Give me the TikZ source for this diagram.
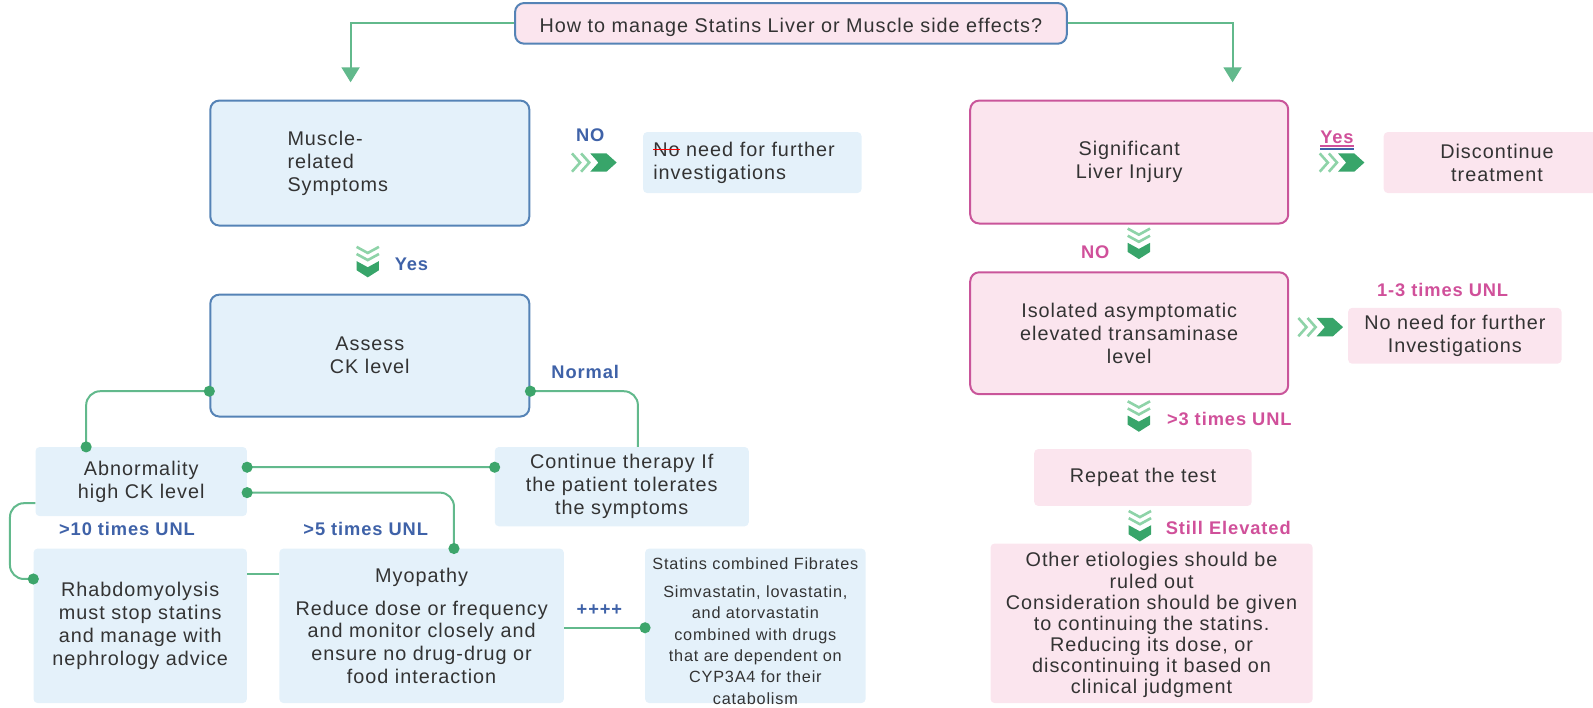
\documentclass[tikz,border=0pt]{standalone}
\usepackage{fontspec}
\setmainfont{Liberation Sans}[LetterSpace=5]
\usetikzlibrary{arrows.meta}
\tikzset{>=latex}

\definecolor{bluefill}{HTML}{E4F1FA}
\definecolor{blueline}{HTML}{5583B6}
\definecolor{pinkfill}{HTML}{FBE5EE}
\definecolor{pinkline}{HTML}{C9559A}
\definecolor{linkgreen}{HTML}{62B98C}
\definecolor{dotgreen}{HTML}{3DA56B}
\definecolor{lblblue}{HTML}{3F62A8}
\definecolor{lblpink}{HTML}{D0509A}
\definecolor{txtgray}{HTML}{333333}
\definecolor{chevlight}{HTML}{8ED3A8}
\definecolor{chevdark}{HTML}{38A56A}

\newcommand\redstrike[1]{\setbox0\hbox{#1}\copy0\llap{\color{red}\rule[0.3em]{\wd0}{1.6pt}}}

\tikzset{
  boxtext/.style={font=\fontsize{19.5}{22.5}\selectfont, text=txtgray, inner sep=0pt, align=center},
  bluebox/.style={boxtext, draw=blueline, fill=bluefill, line width=2pt, rounded corners=9pt},
  pinkbox/.style={boxtext, draw=pinkline, fill=pinkfill, line width=2pt, rounded corners=9pt},
  bluenote/.style={boxtext, fill=bluefill, rounded corners=4pt},
  pinknote/.style={boxtext, fill=pinkfill, rounded corners=4pt},
  bluelbl/.style={font=\fontsize{18}{20}\selectfont\bfseries, text=lblblue, inner sep=0pt},
  pinklbl/.style={font=\fontsize{18}{20}\selectfont\bfseries, text=lblpink, inner sep=0pt},
  link/.style={draw=linkgreen, line width=2pt},
  dotlink/.style={link, {Circle[length=11pt,color=dotgreen]}-{Circle[length=11pt,color=dotgreen]}, shorten <=-5.5pt, shorten >=-5.5pt},
  chevright/.pic={
    \draw[chevlight, line width=2.6pt] (-22,9) -- (-14,0) -- (-22,-9);
    \draw[chevlight, line width=2.6pt] (-13,9) -- (-5,0) -- (-13,-9);
    \fill[chevdark] (-4,9) -- (12,9) -- (22,0) -- (12,-9) -- (-4,-9) -- (4,0) -- cycle;
  },
  chevdown/.pic={
    \draw[chevlight, line width=2.6pt] (-11,15) -- (0,9) -- (11,15);
    \draw[chevlight, line width=2.6pt] (-11,8) -- (0,2) -- (11,8);
    \fill[chevdark] (-11,1) -- (0,-5) -- (11,1) -- (11,-8) -- (0,-15) -- (-11,-8) -- cycle;
  }
}

\begin{document}
\begin{tikzpicture}[x=1pt,y=1pt,scale=1.016,transform shape]
  \useasboundingbox (0,0) rectangle (1568,-696);

  % question
  \node[bluebox, fill=pinkfill, minimum width=543pt, minimum height=40pt, text height=21pt, text depth=4pt] (title) at (778.5,-23)
    {How to manage Statins Liver or Muscle side effects?};

  % muscle side
  \node[bluebox, minimum width=314pt, minimum height=123pt, text width=162pt, align=left] (muscle) at (364,-160.5)
    {Muscle-\\related\\Symptoms};
  \node[bluenote, minimum width=215pt, minimum height=60pt, text width=195pt, align=left] (nn1) at (740.5,-160)
    {\redstrike{No} need for further\\investigations};
  \node[bluebox, minimum width=314pt, minimum height=120pt] (assess) at (364,-350)
    {Assess\\CK level};
  \node[bluenote, minimum width=208pt, minimum height=68pt] (abn) at (139,-474)
    {Abnormality\\high CK level};
  \node[bluenote, minimum width=250pt, minimum height=78pt] (cont) at (612,-479)
    {Continue therapy If\\the patient tolerates\\the symptoms};
  \node[bluenote, minimum width=210pt, minimum height=152pt] (rhabdo) at (138,-616)
    {Rhabdomyolysis\\must stop statins\\and manage with\\nephrology advice};
  \node[bluenote, minimum width=280pt, minimum height=152pt] (myo) at (415,-616)
    {Myopathy\\[10pt]Reduce dose or frequency\\and monitor closely and\\ensure no drug-drug or\\food interaction};
  \node[bluenote, minimum width=217pt, minimum height=152pt, font=\fontsize{16}{21}\selectfont] (stat) at (743.5,-616)
    {\begin{minipage}[c][152pt][t]{217pt}\centering
     \rule{0pt}{21pt}Statins combined Fibrates\\[6pt]Simvastatin, lovastatin,\\and atorvastatin\\combined with drugs\\that are dependent on\\CYP3A4 for their\\catabolism
     \end{minipage}};

  % liver side
  \node[pinkbox, minimum width=313pt, minimum height=121pt] (liver) at (1111.5,-159.5)
    {Significant\\Liver Injury};
  \node[pinknote, minimum width=223pt, minimum height=60pt] (disc) at (1473.5,-160)
    {Discontinue\\treatment};
  \node[pinkbox, minimum width=313pt, minimum height=120pt] (iso) at (1111.5,-328)
    {Isolated asymptomatic\\elevated transaminase\\level};
  \node[pinknote, minimum width=210pt, minimum height=55pt] (nn2) at (1432,-330.5)
    {No need for further\\Investigations};
  \node[pinknote, minimum width=214pt, minimum height=56pt] (rep) at (1125,-470)
    {Repeat the test};
  \node[pinknote, minimum width=317pt, minimum height=157pt, font=\fontsize{19.5}{20.8}\selectfont] (other) at (1133.5,-613.5)
    {\begin{minipage}[c][157pt][t]{317pt}\centering
     \rule{0pt}{23pt}Other etiologies should be\\ruled out\\Consideration should be given\\to continuing the statins.\\Reducing its dose, or\\discontinuing it based on\\clinical judgment
     \end{minipage}};

  % labels
  \node[bluelbl] (no1) at (581,-133) {NO};
  \node[bluelbl] (yes1) at (405,-260) {Yes};
  \node[bluelbl] (normal) at (576,-366) {Normal};
  \node[bluelbl] (ten) at (125,-521) {>10 times UNL};
  \node[bluelbl] (five) at (360,-521) {>5 times UNL};
  \node[bluelbl] (plus) at (590,-601) {++++};
  \node[pinklbl] (yes2) at (1316,-135) {Yes};
  \node[pinklbl] (no2) at (1078,-248) {NO};
  \node[pinklbl] (onethree) at (1420,-285) {1-3 times UNL};
  \node[pinklbl] (three) at (1210,-412) {>3 times UNL};
  \node[pinklbl] (still) at (1209,-520) {Still Elevated};
  \draw[lblpink, line width=1.5pt] ([yshift=-2pt]yes2.south west) -- ([yshift=-2pt]yes2.south east);
  \draw[lblblue, line width=1.5pt] ([yshift=-5pt]yes2.south west) -- ([yshift=-5pt]yes2.south east);

  % chevrons
  \pic at (585,-160) {chevright};
  \pic at (1321,-160) {chevright};
  \pic at (1300,-322) {chevright};
  \pic at (362,-258) {chevdown};
  \pic at (1121,-240) {chevdown};
  \pic at (1121,-410) {chevdown};
  \pic at (1122,-518) {chevdown};

  % connectors
  \draw[link, -{Triangle[width=18pt,length=15pt]}] (title.west) -| ([xshift=-19pt,yshift=17pt]muscle.north);
  \draw[link, -{Triangle[width=18pt,length=15pt]}] (title.east) -| ([xshift=101.5pt,yshift=17pt]liver.north);
  \draw[dotlink, rounded corners=14pt] ([yshift=26pt]assess.south west) -| ([xshift=50pt]abn.north west);
  \draw[link, {Circle[length=11pt,color=dotgreen]}-, shorten <=-5.5pt, rounded corners=14pt] ([yshift=26pt]assess.south east) -| ([xshift=141pt]cont.north west);
  \draw[dotlink] ([yshift=-20pt]abn.north east) -- ([yshift=-20pt]cont.north west);
  \draw[dotlink, rounded corners=14pt] ([yshift=-45pt]abn.north east) -| ([xshift=172pt]myo.north west);
  \draw[link, -{Circle[length=11pt,color=dotgreen]}, shorten >=-5.5pt, rounded corners=14pt] ([yshift=13pt]abn.south west) -| ([xshift=-23pt,yshift=-30pt]rhabdo.north west) -- ([yshift=-30pt]rhabdo.north west);
  \draw[link] ([yshift=-25pt]rhabdo.north east) -- ([yshift=-25pt]myo.north west);
  \draw[link, -{Circle[length=11pt,color=dotgreen]}, shorten >=-5.5pt] ([yshift=-78pt]myo.north east) -- ([yshift=-78pt]stat.north west);
\end{tikzpicture}
\end{document}
